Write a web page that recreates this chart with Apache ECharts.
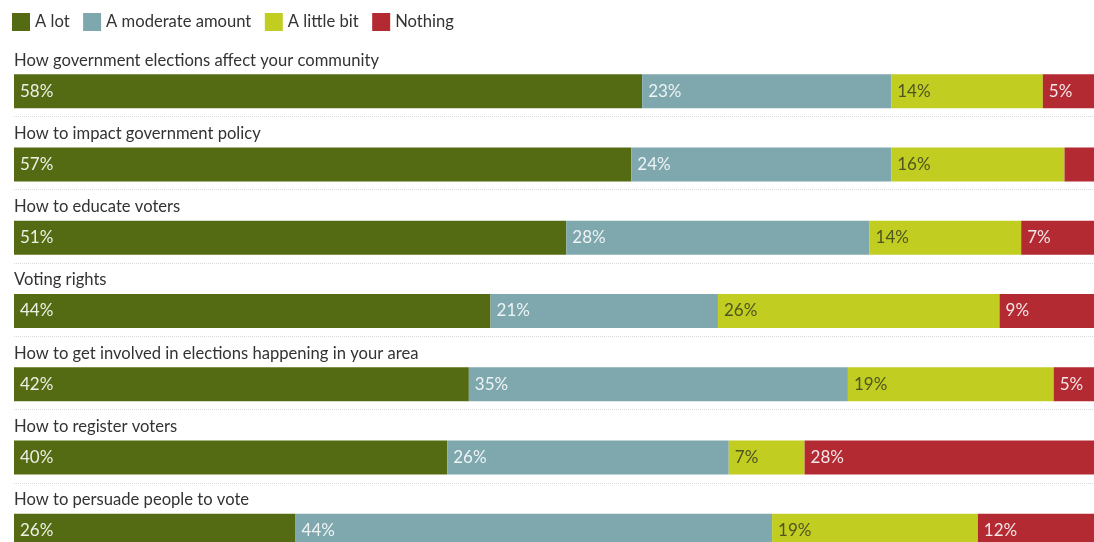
<!DOCTYPE html>
<html>
<head>
<meta charset="utf-8">
<script src="https://cdn.jsdelivr.net/npm/echarts@6/dist/echarts.min.js"></script>
<style>
html,body{margin:0;padding:0;background:#fff;}
#chart{width:1094px;height:542px;}
</style>
</head>
<body>
<div id="chart"></div>
<script>
const categories = [
  "How government elections affect your community",
  "How to impact government policy",
  "How to educate voters",
  "Voting rights",
  "How to get involved in elections happening in your area",
  "How to register voters",
  "How to persuade people to vote"
];
const seriesNames = ["A lot", "A moderate amount", "A little bit", "Nothing"];
const aLot = [58, 57, 51, 44, 42, 40, 26];
const moderate = [23, 24, 28, 21, 35, 26, 44];
const littleBit = [14, 16, 14, 26, 19, 7, 19];
const nothing = [5, 3, 7, 9, 5, 28, 12];

const colors = ["#546b14", "#7fa8ae", "#c2cd22", "#b32a33"];
const labelColors = ["#eef0e6", "#eef3f4", "#4f5520", "#f3e6e6"];
const values = [aLot, moderate, littleBit, nothing];

const chart = echarts.init(document.getElementById('chart'));
const FONT = 'Lato, "Open Sans", sans-serif';
const FS = 17;

const barSeries = values.map((arr, k) => ({
  name: seriesNames[k],
  type: 'bar',
  stack: 'total',
  barWidth: 34,
  itemStyle: { color: colors[k] },
  label: {
    show: true,
    position: 'insideLeft',
    distance: 6,
    fontFamily: FONT,
    fontSize: FS,
    color: labelColors[k],
    formatter: p => (p.value < 4 ? '' : p.value + '%')
  },
  emphasis: { disabled: true },
  data: arr
}));

const rowSeries = {
  type: 'custom',
  silent: true,
  z: 1,
  encode: { x: 0, y: 1 },
  data: categories.map((c, i) => [0, i]),
  renderItem: function (params, api) {
    const cs = params.coordSys;
    const idx = api.value(1);
    const p = api.coord([0, idx]);
    const y = Math.round(p[1] + 25) + 0.5;
    return {
      type: 'group',
      children: [
        {
          type: 'line',
          shape: { x1: cs.x, y1: y, x2: cs.x + cs.width + 20, y2: y },
          style: { stroke: '#d9d9d9', lineWidth: 1, lineDash: [1, 1] }
        },
        {
          type: 'text',
          x: cs.x,
          y: p[1] - 31,
          style: {
            text: categories[idx],
            fill: '#333',
            fontFamily: FONT,
            fontSize: 16.6,
            align: 'left',
            verticalAlign: 'middle'
          }
        }
      ]
    };
  }
};

chart.setOption({
  animation: false,
  backgroundColor: '#ffffff',
  color: colors,
  legend: {
    data: seriesNames,
    left: 7,
    top: 8,
    icon: 'rect',
    itemWidth: 18,
    itemHeight: 18,
    itemGap: 13.5,
    textStyle: { fontFamily: FONT, fontSize: 16.6, color: '#333' }
  },
  grid: { left: 14, right: -3, top: 54.5, height: 513, containLabel: false, outerBoundsMode: 'none' },
  xAxis: { type: 'value', min: 0, max: 100, show: false },
  yAxis: {
    type: 'category',
    data: categories,
    inverse: true,
    axisLine: { show: false },
    axisTick: { show: false },
    splitLine: { show: false },
    axisLabel: { show: false }
  },
  series: barSeries.concat([rowSeries])
});
</script>
</body>
</html>
